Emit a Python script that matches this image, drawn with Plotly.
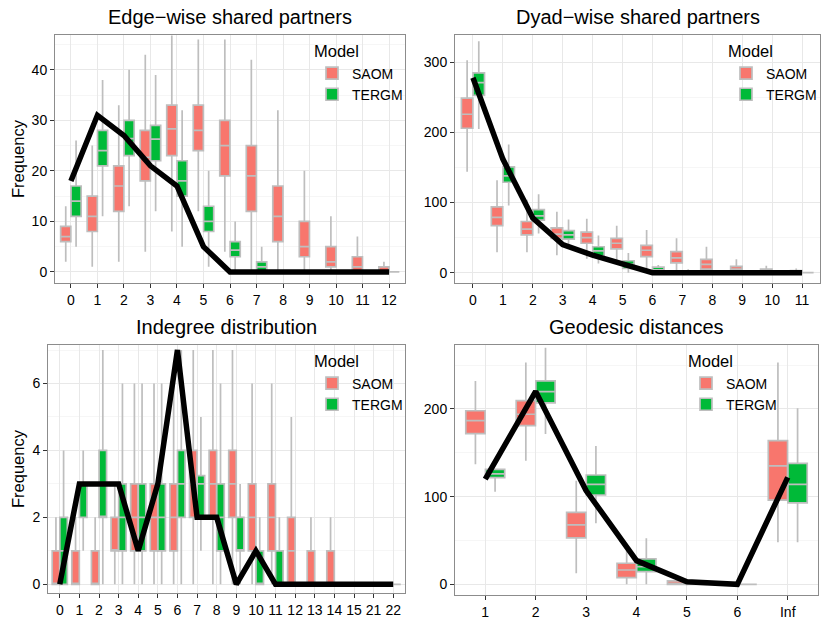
import plotly.graph_objects as go

W, H = 830, 623

# ---------------- data ----------------
# Edge-wise shared partners
esp_cats = ["0", "1", "2", "3", "4", "5", "6", "7", "8", "9", "10", "11", "12"]
esp_saom_q1 = [6, 8, 12, 18, 23, 24, 19, 12, 6, 3, 1, 0, 0]
esp_saom_med = [7, 11, 17, 22.7, 28.3, 28, 25, 19, 11, 5, 2, 1, 0]
esp_saom_q3 = [9, 15, 21, 28, 33, 33, 30, 25, 17, 10, 5, 3, 1]
esp_saom_lo = [2, 1, 2, 4, 8, 12, 4, 0, 0, 0, 0, 0, 0]
esp_saom_hi = [13, 25, 33, 43, 46.8, 46, 46, 42, 32, 20, 11, 7, 2]
esp_tergm_q1 = [11, 21, 23, 22, 15, 8, 3, 0, 0, 0, 0, 0, 0]
esp_tergm_med = [14, 24, 26.4, 26.3, 18, 10, 4.3, 1, 0, 0, 0, 0, 0]
esp_tergm_q3 = [17, 28, 30, 29, 22, 13, 6, 2, 0, 0, 0, 0, 0]
esp_tergm_lo = [5, 11, 13, 12, 5, 1, 0, 0, 0, 0, 0, 0, 0]
esp_tergm_hi = [26, 38, 40, 39, 32, 20, 10, 5, 0, 0, 0, 0, 0]
esp_obs = [18, 31, 27, 21, 17, 5, 0, 0, 0, 0, 0, 0, 0]

# Dyad-wise shared partners
dsp_cats = ["0", "1", "2", "3", "4", "5", "6", "7", "8", "9", "10", "11"]
dsp_saom_q1 = [206, 67, 54, 49, 42, 34, 23, 14, 5, 2, 0, 0]
dsp_saom_med = [226, 79, 62, 55, 50, 42, 32, 21, 12, 5, 2, 1]
dsp_saom_q3 = [249, 94, 73, 64, 58, 49, 39, 30, 19, 9, 5, 3]
dsp_saom_lo = [144, 29, 29, 25, 20, 13, 4, 1, 0, 0, 0, 0]
dsp_saom_hi = [303, 132, 104, 87, 77, 67, 61, 49, 37, 19, 10, 6]
dsp_tergm_q1 = [253, 129, 75, 48, 24, 6, 1, 0, 0, 0, 0, 0]
dsp_tergm_med = [271, 138, 81, 54, 31, 12, 4, 1, 0, 0, 0, 0]
dsp_tergm_q3 = [285, 151, 90, 60, 37, 17, 8, 2, 0, 0, 0, 0]
dsp_tergm_lo = [205, 96, 56, 35, 13, 0, 0, 0, 0, 0, 0, 0]
dsp_tergm_hi = [330, 183, 112, 76, 53, 28, 11, 5, 0, 0, 0, 0]
dsp_obs = [278, 162, 78, 40, 25, 12, 0, 0, 0, 0, 0, 0]

# Indegree distribution
ind_cats = ["0", "1", "2", "3", "4", "5", "6", "7", "8", "9", "10", "11",
            "12", "13", "14", "15", "21", "22"]
ind_saom_q1 = [0, 0, 0, 1, 1, 1, 1, 2, 2, 2, 1, 1, 0, 0, 0, 0, 0, 0]
ind_saom_med = [0, 0, 0, 1, 2, 2, 2, 3, 3, 3, 2, 2, 1, 0, 0, 0, 0, 0]
ind_saom_q3 = [1, 1, 1, 2, 3, 3, 3, 4, 4, 4, 3, 3, 2, 1, 1, 0, 0, 0]
ind_saom_lo = [0, 0, 0, 0, 0, 0, 0, 0, 0, 0, 0, 0, 0, 0, 0, 0, 0, 0]
ind_saom_hi = [2, 2, 2, 3, 6, 6, 6, 7, 7, 7, 6, 6, 5, 2, 2, 0, 0, 0]
ind_tergm_q1 = [0, 2, 2, 1, 1, 1, 2, 2, 1, 1, 0, 0, 0, 0, 0, 0, 0, 0]
ind_tergm_med = [1, 3, 2, 2, 2, 2, 3, 3, 2, 1, 0, 0, 0, 0, 0, 0, 0, 0]
ind_tergm_q3 = [2, 3, 4, 3, 3, 3, 4, 3.25, 3, 2, 1, 1, 0, 0, 0, 0, 0, 0]
ind_tergm_lo = [0, 1, 0, 0, 0, 0, 0, 1, 0, 0, 0, 0, 0, 0, 0, 0, 0, 0]
ind_tergm_hi = [4, 4, 7, 6, 6, 6, 7, 5, 6, 3, 2, 2, 0, 0, 0, 0, 0, 0]
ind_obs = [0, 3, 3, 3, 1, 3, 7, 2, 2, 0, 1, 0, 0, 0, 0, 0, 0, 0]

# Geodesic distances
geo_cats = ["1", "2", "3", "4", "5", "6", "Inf"]
geo_saom_q1 = [172, 181, 53, 7.6, 0, 0, 96]
geo_saom_med = [186.7, 194, 67.7, 16.3, 1, 0, 135]
geo_saom_q3 = [198, 209.5, 82, 24, 4, 0, 164]
geo_saom_lo = [137, 141, 12.5, 0, 0, 0, 48]
geo_saom_hi = [232, 253, 118, 40, 8, 0, 253]
geo_tergm_q1 = [121.7, 207, 101.9, 14.4, 0, 0, 93]
geo_tergm_med = [126, 219.8, 114, 20, 1, 0, 114]
geo_tergm_q3 = [131, 232, 124.7, 29, 2, 0, 138]
geo_tergm_lo = [105.7, 171.5, 69.6, 0, 0, 0, 48]
geo_tergm_hi = [131, 270, 157.8, 52.5, 5, 0, 200.8]
geo_obs = [120, 220, 107, 27, 3, 0, 122]

titles = ["Edge\u2212wise shared partners", "Dyad\u2212wise shared partners",
          "Indegree distribution", "Geodesic distances"]
models = ["SAOM", "TERGM"]
model_colors = ["#F8766D", "#00BA38"]

# ---------------- styling ----------------
FONT = "Liberation Sans, Arial, Helvetica, sans-serif"
BOX_LINE = "#BEBEBE"
GRID = "#E8E8E8"
GRID_MINOR = "#F6F6F6"
BORDER = "#8C8C8C"


def px_x(p):
    return p / W


def px_y(p):
    return 1 - p / H


panels = [
    dict(cats=esp_cats, obs=esp_obs,
         s=(esp_saom_q1, esp_saom_med, esp_saom_q3, esp_saom_lo, esp_saom_hi),
         t=(esp_tergm_q1, esp_tergm_med, esp_tergm_q3, esp_tergm_lo, esp_tergm_hi),
         xd=(55, 405), yd=(35, 283), yr=(-2.2, 46.9), dt=10,
         leg=(312, 36)),
    dict(cats=dsp_cats, obs=dsp_obs,
         s=(dsp_saom_q1, dsp_saom_med, dsp_saom_q3, dsp_saom_lo, dsp_saom_hi),
         t=(dsp_tergm_q1, dsp_tergm_med, dsp_tergm_q3, dsp_tergm_lo, dsp_tergm_hi),
         xd=(455, 820), yd=(35, 283), yr=(-14.7, 339), dt=100,
         leg=(726, 36)),
    dict(cats=ind_cats, obs=ind_obs,
         s=(ind_saom_q1, ind_saom_med, ind_saom_q3, ind_saom_lo, ind_saom_hi),
         t=(ind_tergm_q1, ind_tergm_med, ind_tergm_q3, ind_tergm_lo, ind_tergm_hi),
         xd=(48, 405), yd=(345, 593), yr=(-0.26, 7.15), dt=2,
         leg=(312, 346)),
    dict(cats=geo_cats, obs=geo_obs,
         s=(geo_saom_q1, geo_saom_med, geo_saom_q3, geo_saom_lo, geo_saom_hi),
         t=(geo_tergm_q1, geo_tergm_med, geo_tergm_q3, geo_tergm_lo, geo_tergm_hi),
         xd=(455, 818), yd=(345, 595), yr=(-12.2, 273), dt=100,
         leg=(686, 346)),
]

fig = go.Figure()
layout = dict(
    width=W, height=H, margin=dict(l=0, r=0, t=0, b=0),
    paper_bgcolor="white", plot_bgcolor="white",
    boxmode="group", boxgap=0.22, boxgroupgap=0.02,
    font=dict(family=FONT, color="black", size=14),
    showlegend=True, annotations=[],
)

for i, p in enumerate(panels):
    n = i + 1
    sfx = "" if n == 1 else str(n)
    xa, ya = "x" + sfx, "y" + sfx
    leg = "legend" + sfx
    for m, stats, col in zip(models, (p["s"], p["t"]), model_colors):
        q1, med, q3, lo, hi = stats
        fig.add_trace(go.Box(
            x=p["cats"], q1=q1, median=med, q3=q3,
            lowerfence=lo, upperfence=hi,
            name=m, legendgroup=m + sfx, legend=leg,
            fillcolor=col, line=dict(color=BOX_LINE, width=1.7),
            whiskerwidth=0, boxpoints=False,
            offsetgroup=m, xaxis=xa, yaxis=ya, hoverinfo="skip",
        ))
    fig.add_trace(go.Scatter(
        x=p["cats"], y=p["obs"], mode="lines",
        line=dict(color="black", width=5.5),
        showlegend=False, xaxis=xa, yaxis=ya, hoverinfo="skip",
    ))
    ncat = len(p["cats"])
    layout["xaxis" + sfx] = dict(
        domain=[px_x(p["xd"][0]), px_x(p["xd"][1])], anchor=ya,
        type="category", range=[-0.6, ncat - 1 + 0.6],
        showgrid=True, gridcolor=GRID, gridwidth=1,
        showline=True, mirror=True, linecolor=BORDER, linewidth=1,
        ticks="outside", ticklen=4, tickcolor="#333333",
        tickfont=dict(size=14, color="black", family=FONT),
        zeroline=False, fixedrange=True,
    )
    layout["yaxis" + sfx] = dict(
        domain=[px_y(p["yd"][1]), px_y(p["yd"][0])], anchor=xa,
        range=list(p["yr"]), dtick=p["dt"], tick0=0,
        showgrid=True, gridcolor=GRID, gridwidth=1,
        minor=dict(showgrid=True, gridcolor=GRID_MINOR, dtick=p["dt"] / 2, tick0=0),
        showline=True, mirror=True, linecolor=BORDER, linewidth=1,
        ticks="outside", ticklen=4, tickcolor="#333333",
        tickfont=dict(size=14, color="black", family=FONT),
        zeroline=False, fixedrange=True,
    )
    layout[leg] = dict(
        x=px_x(p["leg"][0]), y=px_y(p["leg"][1]),
        xanchor="left", yanchor="top",
        title=dict(text="Model", font=dict(size=16.5, family=FONT)),
        font=dict(size=14, family=FONT),
        bgcolor="rgba(255,255,255,0)", itemwidth=30,
        tracegroupgap=4, traceorder="normal",
    )
    cx = (p["xd"][0] + p["xd"][1]) / 2
    layout["annotations"].append(dict(
        text=titles[i], x=px_x(cx), y=px_y(p["yd"][0] - 18),
        xref="paper", yref="paper", showarrow=False,
        xanchor="center", yanchor="middle",
        font=dict(size=20, family=FONT, color="black"),
    ))

for yc in (159, 469):
    layout["annotations"].append(dict(
        text="Frequency", x=px_x(18), y=px_y(yc),
        xref="paper", yref="paper", showarrow=False, textangle=-90,
        xanchor="center", yanchor="middle",
        font=dict(size=16.5, family=FONT, color="black"),
    ))

fig.update_layout(**layout)
fig.write_html(
    "out.html",
    config={"displayModeBar": False},
    post_script="document.body.style.margin='0';document.body.style.padding='0';",
)
